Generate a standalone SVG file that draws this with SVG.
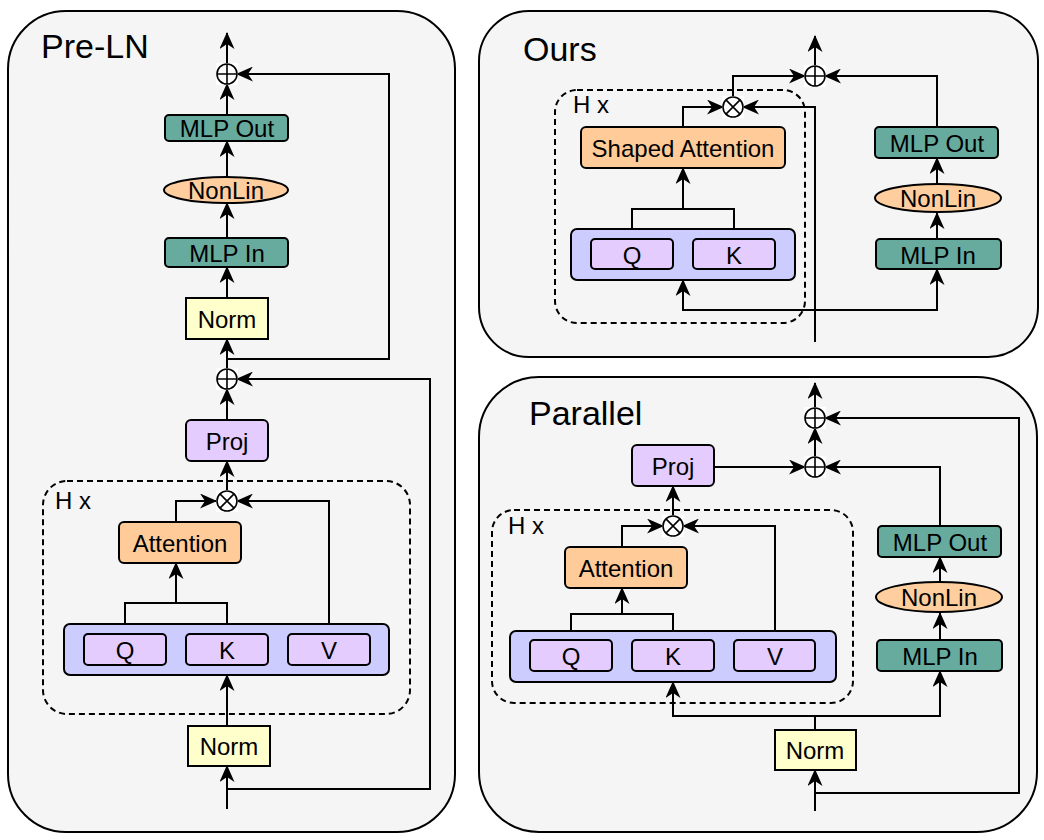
<svg xmlns="http://www.w3.org/2000/svg" width="1044" height="840" viewBox="0 0 1044 840">
<defs>
<marker id="arr" markerUnits="userSpaceOnUse" markerWidth="17" markerHeight="15" viewBox="0 0 17 15" refX="16" refY="7.5" orient="auto">
<path d="M17,7.5 L0,0 L5,7.5 L0,15 Z" fill="#000"/>
</marker>
<g id="plusSym"><rect x="-11" y="-11" width="22" height="22" fill="#fff"/><circle r="10" fill="#fff" stroke="#000" stroke-width="1.6"/><path d="M-10,0 H10 M0,-10 V10" stroke="#000" stroke-width="1.6"/></g>
<g id="timesSym"><rect x="-11" y="-11" width="22" height="22" fill="#fff"/><circle r="10" fill="#fff" stroke="#000" stroke-width="1.6"/><path d="M-7.07,-7.07 L7.07,7.07 M-7.07,7.07 L7.07,-7.07" stroke="#000" stroke-width="1.6"/></g>
</defs>
<style>
.panel{fill:#f5f5f5;stroke:#000;stroke-width:2}
.dash{fill:none;stroke:#000;stroke-width:2;stroke-dasharray:6 4}
.mlp{fill:#67ab9f;stroke:#000;stroke-width:2}
.nl{fill:#ffce9f;stroke:#000;stroke-width:2}
.att{fill:#ffcc99;stroke:#000;stroke-width:2}
.norm{fill:#ffffcc;stroke:#000;stroke-width:2}
.pur{fill:#e5ccff;stroke:#000;stroke-width:2}
.blue{fill:#ccccff;stroke:#000;stroke-width:2}
.c{fill:none;stroke:#000;stroke-width:2}
.a{fill:none;stroke:#000;stroke-width:2;marker-end:url(#arr)}
text{font-family:"Liberation Sans",Arial,sans-serif;fill:#000}
.lbl{font-size:24px;text-anchor:middle;dominant-baseline:central}
.title{font-size:34px}
.hx{font-size:24px}
</style>

<!-- Panels -->
<g id="panel-preln"><rect class="panel" x="8" y="11" width="447" height="821" rx="58"/><text class="title" x="41" y="58">Pre-LN</text></g>
<g id="panel-ours"><rect class="panel" x="479" y="11" width="559" height="346" rx="50"/><text class="title" x="523" y="61">Ours</text></g>
<g id="panel-parallel"><rect class="panel" x="479" y="377" width="558" height="455" rx="60"/><text class="title" x="529" y="425">Parallel</text></g>

<!-- Dashed head groups -->
<g id="heads-preln"><rect class="dash" x="43" y="481" width="367" height="233" rx="24"/><text class="hx" x="55" y="509">H x</text></g>
<g id="heads-ours"><rect class="dash" x="555" y="90" width="250" height="233" rx="22"/><text class="hx" x="573" y="113">H x</text></g>
<g id="heads-parallel"><rect class="dash" x="492" y="510" width="361" height="193" rx="22"/><text class="hx" x="508" y="534">H x</text></g>

<!-- Connectors -->
<g id="connectors">
<!-- Pre-LN -->
<path class="a" d="M227,64 V33"/>
<path class="a" d="M227,115 V84"/>
<path class="a" d="M227,177 V141"/>
<path class="a" d="M227,238 V203"/>
<path class="a" d="M227,298 V267"/>
<path class="a" d="M227,368 V339"/>
<path class="a" d="M227,359 H389 V74 H237"/>
<path class="a" d="M227,420 V389"/>
<path class="a" d="M227,789 H430 V379 H237"/>
<path class="a" d="M227,491 V461"/>
<path class="a" d="M176,522 V501 H216"/>
<path class="a" d="M329,634 V501 H237"/>
<path class="c" d="M125,634 V603 H227 V634"/>
<path class="a" d="M176,603 V563"/>
<path class="a" d="M227,726 V675"/>
<path class="a" d="M227,809 V766"/>
<!-- Ours -->
<path class="a" d="M815,66 V36"/>
<path class="a" d="M733,97 V76 H805"/>
<path class="a" d="M937,127 V76 H825"/>
<path class="a" d="M815,342 V107 H743"/>
<path class="a" d="M683,127 V107 H723"/>
<path class="c" d="M632,239 V209 H734 V239"/>
<path class="a" d="M683,209 V168"/>
<path class="a" d="M815,310 H683 V280"/>
<path class="a" d="M815,310 H937 V269"/>
<path class="a" d="M937,184 V158"/>
<path class="a" d="M937,239 V213"/>
<!-- Parallel -->
<path class="a" d="M815,408 V383"/>
<path class="a" d="M815,457 V428"/>
<path class="a" d="M714,467 H805"/>
<path class="a" d="M940,526 V467 H825"/>
<path class="a" d="M815,793 H1019 V418 H825"/>
<path class="a" d="M815,811 V770"/>
<path class="c" d="M815,730 V716"/>
<path class="a" d="M815,716 H673 V682"/>
<path class="a" d="M815,716 H940 V671"/>
<path class="a" d="M940,582 V557"/>
<path class="a" d="M940,640 V613"/>
<path class="a" d="M673,516 V486"/>
<path class="a" d="M622,547 V526 H663"/>
<path class="a" d="M775,640 V526 H683"/>
<path class="c" d="M571,640 V614 H673 V640"/>
<path class="a" d="M622,614 V588"/>
</g>

<!-- Pre-LN nodes -->
<g id="pre-plus-top"><use href="#plusSym" x="227" y="74"/></g>
<g id="pre-mlp-out"><rect class="mlp" x="165" y="115" width="123" height="26" rx="4"/><text class="lbl" x="227" y="128">MLP Out</text></g>
<g id="pre-nonlin"><ellipse class="nl" cx="226" cy="190" rx="62" ry="13"/><text class="lbl" x="226" y="190">NonLin</text></g>
<g id="pre-mlp-in"><rect class="mlp" x="165" y="238" width="123" height="29" rx="4"/><text class="lbl" x="227" y="253">MLP In</text></g>
<g id="pre-norm-top"><rect class="norm" x="186" y="298" width="82" height="41"/><text class="lbl" x="227" y="319">Norm</text></g>
<g id="pre-plus-mid"><use href="#plusSym" x="227" y="379"/></g>
<g id="pre-proj"><rect class="pur" x="186" y="420" width="82" height="41" rx="5"/><text class="lbl" x="227" y="441">Proj</text></g>
<g id="pre-times"><use href="#timesSym" x="227" y="501"/></g>
<g id="pre-attention"><rect class="att" x="119" y="522" width="122" height="41" rx="5"/><text class="lbl" x="180" y="543">Attention</text></g>
<g id="pre-qkv"><rect class="blue" x="64" y="624" width="325" height="51" rx="6"/></g>
<g id="pre-q"><rect class="pur" x="84" y="634" width="82" height="31" rx="4"/><text class="lbl" x="125" y="650">Q</text></g>
<g id="pre-k"><rect class="pur" x="186" y="634" width="82" height="31" rx="4"/><text class="lbl" x="227" y="650">K</text></g>
<g id="pre-v"><rect class="pur" x="288" y="634" width="82" height="31" rx="4"/><text class="lbl" x="329" y="650">V</text></g>
<g id="pre-norm-bottom"><rect class="norm" x="188" y="726" width="82" height="40"/><text class="lbl" x="229" y="746">Norm</text></g>

<!-- Ours nodes -->
<g id="ours-plus"><use href="#plusSym" x="815" y="76"/></g>
<g id="ours-times"><use href="#timesSym" x="733" y="107"/></g>
<g id="ours-shaped-attention"><rect class="att" x="581" y="127" width="204" height="41" rx="5"/><text class="lbl" x="683" y="148">Shaped Attention</text></g>
<g id="ours-qk"><rect class="blue" x="571" y="229" width="224" height="51" rx="6"/></g>
<g id="ours-q"><rect class="pur" x="591" y="239" width="82" height="30" rx="4"/><text class="lbl" x="632" y="255">Q</text></g>
<g id="ours-k"><rect class="pur" x="693" y="239" width="82" height="30" rx="4"/><text class="lbl" x="734" y="255">K</text></g>
<g id="ours-mlp-out"><rect class="mlp" x="875" y="127" width="123" height="31" rx="4"/><text class="lbl" x="937" y="143">MLP Out</text></g>
<g id="ours-nonlin"><ellipse class="nl" cx="938" cy="198" rx="63" ry="14"/><text class="lbl" x="938" y="198">NonLin</text></g>
<g id="ours-mlp-in"><rect class="mlp" x="876" y="239" width="125" height="30" rx="4"/><text class="lbl" x="938" y="255">MLP In</text></g>

<!-- Parallel nodes -->
<g id="par-plus-top"><use href="#plusSym" x="815" y="418"/></g>
<g id="par-plus-mid"><use href="#plusSym" x="815" y="467"/></g>
<g id="par-proj"><rect class="pur" x="632" y="445" width="82" height="41" rx="5"/><text class="lbl" x="673" y="466">Proj</text></g>
<g id="par-times"><use href="#timesSym" x="673" y="526"/></g>
<g id="par-attention"><rect class="att" x="565" y="547" width="122" height="41" rx="5"/><text class="lbl" x="626" y="568">Attention</text></g>
<g id="par-qkv"><rect class="blue" x="510" y="631" width="326" height="51" rx="6"/></g>
<g id="par-q"><rect class="pur" x="530" y="640" width="82" height="31" rx="4"/><text class="lbl" x="571" y="656">Q</text></g>
<g id="par-k"><rect class="pur" x="632" y="640" width="82" height="31" rx="4"/><text class="lbl" x="673" y="656">K</text></g>
<g id="par-v"><rect class="pur" x="734" y="640" width="81" height="31" rx="4"/><text class="lbl" x="775" y="656">V</text></g>
<g id="par-mlp-out"><rect class="mlp" x="878" y="526" width="123" height="31" rx="4"/><text class="lbl" x="940" y="542">MLP Out</text></g>
<g id="par-nonlin"><ellipse class="nl" cx="939" cy="597" rx="63" ry="15"/><text class="lbl" x="939" y="597">NonLin</text></g>
<g id="par-mlp-in"><rect class="mlp" x="877" y="640" width="125" height="31" rx="4"/><text class="lbl" x="940" y="656">MLP In</text></g>
<g id="par-norm"><rect class="norm" x="775" y="730" width="81" height="40"/><text class="lbl" x="815" y="750">Norm</text></g>
</svg>
